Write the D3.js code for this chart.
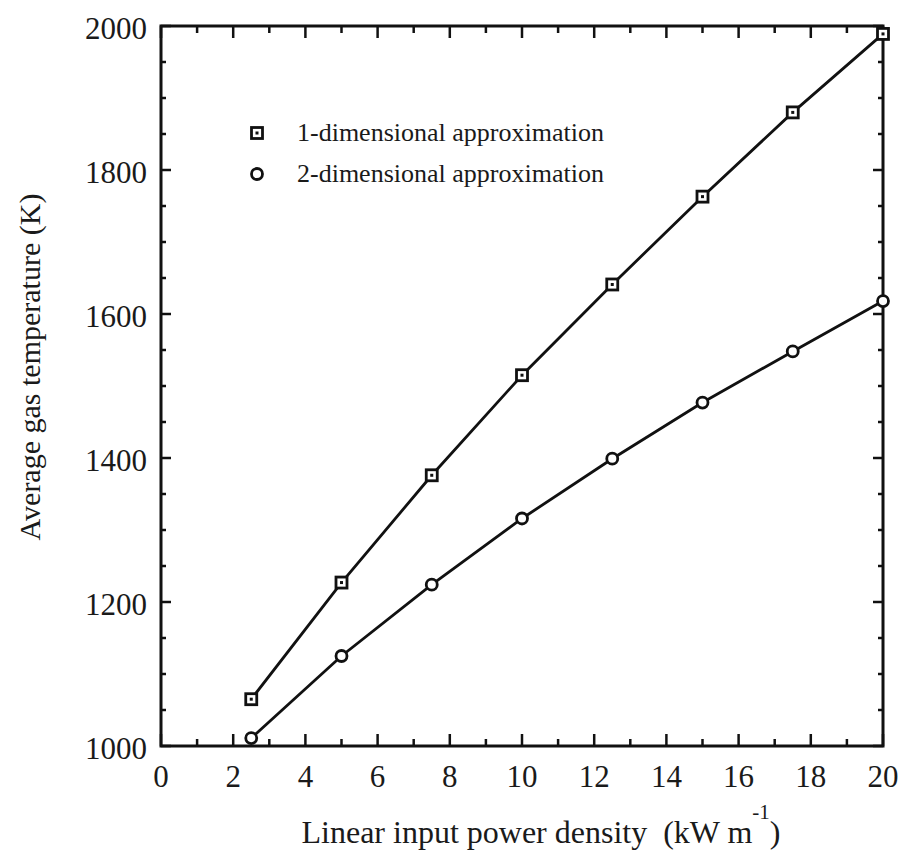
<!DOCTYPE html>
<html><head><meta charset="utf-8">
<script src="https://cdn.jsdelivr.net/npm/d3@7"></script>
<style>body{margin:0;background:#fff}svg{display:block}</style>
</head><body>
<svg id="c" width="903" height="867"></svg>
<script>
const power = [2.5, 5, 7.5, 10, 12.5, 15, 17.5, 20];
const temp1D = [1065, 1227, 1376, 1515, 1641, 1763, 1880, 1989];
const temp2D = [1011, 1125, 1224, 1316, 1399, 1477, 1548, 1618];
const xTicks = [0, 2, 4, 6, 8, 10, 12, 14, 16, 18, 20];
const yTicks = [1000, 1200, 1400, 1600, 1800, 2000];
const legendLabels = ["1-dimensional approximation", "2-dimensional approximation"];
const xTitle = "Linear input power density\u00a0\u00a0(kW m";
const yTitle = "Average gas temperature (K)";

const FONT = "'Liberation Serif', 'Times New Roman', Times, 'DejaVu Serif', serif";
const svg = d3.select("#c").attr("font-family", FONT).style("font-family", FONT);
const L = 161, R = 883, T = 26, B = 746;
const x = d3.scaleLinear().domain([0, 20]).range([L, R]);
const y = d3.scaleLinear().domain([1000, 2000]).range([B, T]);

const g = svg.append("g");
const minorX = d3.range(0, 20.01, 1);
const minorY = d3.range(1000, 2000.01, 50);
g.selectAll(".bt").data(minorX).enter().append("line")
  .attr("x1", d => x(d)).attr("x2", d => x(d))
  .attr("y1", B).attr("y2", d => B - (d % 2 === 0 ? 12 : 7))
  .attr("stroke", "#111").attr("stroke-width", 2.5);
g.selectAll(".tt").data(minorX).enter().append("line")
  .attr("x1", d => x(d)).attr("x2", d => x(d))
  .attr("y1", T).attr("y2", d => T + (d % 2 === 0 ? 12 : 7))
  .attr("stroke", "#111").attr("stroke-width", 2.5);
g.selectAll(".lt").data(minorY).enter().append("line")
  .attr("y1", d => y(d)).attr("y2", d => y(d))
  .attr("x1", L).attr("x2", d => L + (d % 200 === 0 ? 10 : 5))
  .attr("stroke", "#111").attr("stroke-width", 2.5);
g.selectAll(".rt").data(minorY).enter().append("line")
  .attr("y1", d => y(d)).attr("y2", d => y(d))
  .attr("x1", R).attr("x2", d => R - (d % 200 === 0 ? 10 : 5))
  .attr("stroke", "#111").attr("stroke-width", 2.5);
g.append("rect").attr("x", L).attr("y", T).attr("width", R - L).attr("height", B - T)
  .attr("fill", "none").attr("stroke", "#111").attr("stroke-width", 3);

const TXT = "#1a1a1a";
g.selectAll(".xl").data(xTicks).enter().append("text")
  .attr("x", d => x(d)).attr("y", 787).attr("text-anchor", "middle")
  .attr("font-size", 31).attr("fill", TXT).text(d => d);
g.selectAll(".yl").data(yTicks).enter().append("text")
  .attr("x", 147).attr("y", d => y(d) + 13).attr("text-anchor", "end")
  .attr("font-size", 31).attr("fill", TXT).text(d => d);

const xt = svg.append("text").attr("x", 541).attr("y", 843).attr("text-anchor", "middle")
  .attr("font-size", 32).attr("fill", TXT);
xt.append("tspan").text(xTitle);
xt.append("tspan").attr("font-size", 21).attr("dy", -24).text("-1");
xt.append("tspan").attr("dy", 24).text(")");
svg.append("text").attr("transform", "translate(40,367) rotate(-90)")
  .attr("text-anchor", "middle").attr("font-size", 30).attr("fill", TXT).text(yTitle);

const line = d3.line().x(d => x(d[0])).y(d => y(d[1]));
const s1 = power.map((p, i) => [p, temp1D[i]]);
const s2 = power.map((p, i) => [p, temp2D[i]]);
[s1, s2].forEach(s => svg.append("path").attr("d", line(s)).attr("fill", "none")
  .attr("stroke", "#111").attr("stroke-width", 2.8));

function square(sel, cx, cy) {
  sel.append("rect").attr("x", cx - 5.5).attr("y", cy - 5.5).attr("width", 11).attr("height", 11)
    .attr("fill", "#fff").attr("stroke", "#111").attr("stroke-width", 2.8);
  sel.append("rect").attr("x", cx - 1.5).attr("y", cy - 1.5).attr("width", 3).attr("height", 3).attr("fill", "#111");
}
function circle(sel, cx, cy) {
  sel.append("circle").attr("cx", cx).attr("cy", cy).attr("r", 5.5)
    .attr("fill", "#fff").attr("stroke", "#111").attr("stroke-width", 2.8);
}
const m = svg.append("g");
s1.forEach(d => square(m, x(d[0]), y(d[1])));
s2.forEach(d => circle(m, x(d[0]), y(d[1])));

const lg = svg.append("g");
square(lg, 257, 133);
circle(lg, 257, 174);
lg.append("text").attr("x", 297).attr("y", 141).attr("font-size", 26).attr("fill", TXT).text(legendLabels[0]);
lg.append("text").attr("x", 297).attr("y", 182).attr("font-size", 26).attr("fill", TXT).text(legendLabels[1]);
</script>
</body></html>
